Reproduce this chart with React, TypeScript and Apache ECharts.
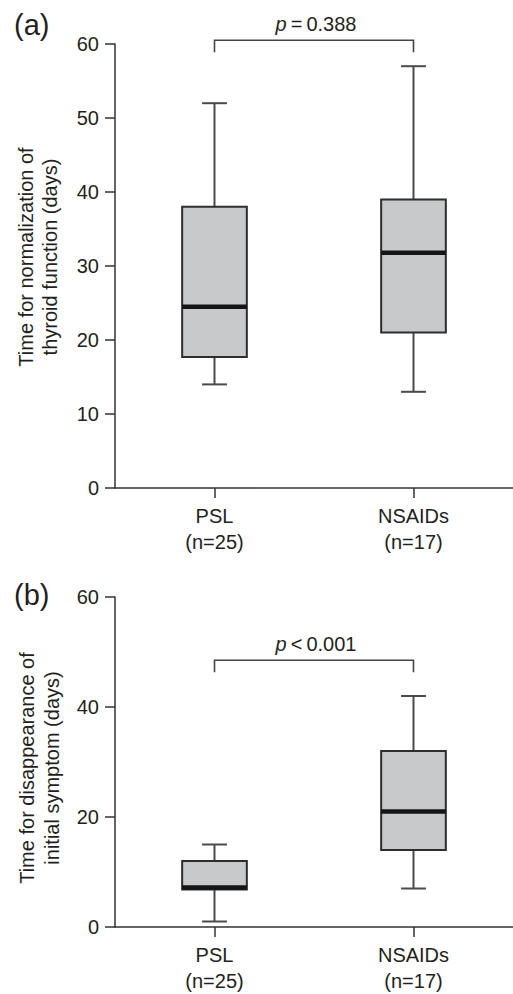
import React, { useEffect, useRef } from "react";
import * as echarts from "echarts";

const categories = ["PSL\n(n=25)", "NSAIDs\n(n=17)"];
// [low, q1, median, q3, high]
const statsA = [
  [14, 17.7, 24.5, 38, 52],
  [13, 21, 31.8, 39, 57],
];
const statsB = [
  [1, 6.8, 7.2, 12, 15],
  [7, 14, 21, 32, 42],
];
// [fromIndex, toIndex, barValue, dropValue]
const bracketA = [[0, 1, 60.5, 58.9]];
const bracketB = [[0, 1, 48.5, 46.3]];
const bracketLabelsA = ["0.388"];
const bracketLabelsB = ["0.001"];
const bracketOpsA = ["="];
const bracketOpsB = ["<"];
const yTitleA = "Time for normalization of\nthyroid function (days)";
const yTitleB = "Time for disappearance of\ninitial symptom (days)";

const FONT = "'Liberation Sans', Arial, Helvetica, sans-serif";
const TXT = "#231f20";
const AXIS = "#333333";

function boxRender(params: any, api: any) {
  const idx = api.value(0);
  const low = api.coord([idx, api.value(1)]);
  const q1 = api.coord([idx, api.value(2)]);
  const med = api.coord([idx, api.value(3)]);
  const q3 = api.coord([idx, api.value(4)]);
  const high = api.coord([idx, api.value(5)]);
  const band = api.size([1, 0])[0];
  const bw = band * 0.325;
  const cw = band * 0.125;
  const cx = med[0];
  const wStyle = { stroke: "#4a4a4a", lineWidth: 2 };
  return {
    type: "group",
    children: [
      { type: "line", shape: { x1: cx, y1: high[1], x2: cx, y2: q3[1] }, style: wStyle },
      { type: "line", shape: { x1: cx, y1: q1[1], x2: cx, y2: low[1] }, style: wStyle },
      { type: "line", shape: { x1: cx - cw / 2, y1: high[1], x2: cx + cw / 2, y2: high[1] }, style: wStyle },
      { type: "line", shape: { x1: cx - cw / 2, y1: low[1], x2: cx + cw / 2, y2: low[1] }, style: wStyle },
      {
        type: "rect",
        shape: { x: cx - bw / 2, y: q3[1], width: bw, height: q1[1] - q3[1] },
        style: { fill: "#c8c9cb", stroke: "#2e2e2e", lineWidth: 2 },
      },
      { type: "line", shape: { x1: cx - bw / 2, y1: med[1], x2: cx + bw / 2, y2: med[1] }, style: { stroke: "#151515", lineWidth: 4.5 } },
    ],
  };
}

function makeBracketRender(labels: string[], ops: string[]) {
  return function (params: any, api: any) {
    const a = api.coord([api.value(0), api.value(2)]);
    const b = api.coord([api.value(1), api.value(2)]);
    const d = api.coord([api.value(0), api.value(3)]);
    const i = params.dataIndex;
    return {
      type: "group",
      children: [
        {
          type: "polyline",
          shape: { points: [[a[0], d[1]], [a[0], a[1]], [b[0], a[1]], [b[0], d[1]]] },
          style: { stroke: "#444", lineWidth: 1.6, fill: "none" },
        },
        {
          type: "text",
          x: (a[0] + b[0]) / 2 + 2,
          y: a[1] - 16,
          style: {
            text: "{i|p}\u2009" + ops[i] + "\u2009" + labels[i],
            rich: { i: { fontStyle: "italic", fontSize: 20, fontFamily: FONT, fill: TXT } },
            fontSize: 20,
            fontFamily: FONT,
            fill: TXT,
            align: "center",
            verticalAlign: "middle",
          },
        },
      ],
    };
  };
}

function yAxisCfg(gridIndex: number, interval: number) {
  return {
    type: "value",
    gridIndex,
    min: 0,
    max: 60,
    interval,
    axisLine: { show: true, lineStyle: { color: AXIS, width: 1.5 } },
    axisTick: { show: true, length: 10, lineStyle: { color: AXIS, width: 1.5 } },
    axisLabel: { color: TXT, fontSize: 20, fontFamily: FONT, margin: 16 },
    splitLine: { show: false },
  };
}

function xAxisCfg(gridIndex: number) {
  return {
    type: "category",
    gridIndex,
    data: categories,
    boundaryGap: true,
    axisLine: { show: true, onZero: false, lineStyle: { color: AXIS, width: 1.5 } },
    axisTick: { show: true, alignWithLabel: true, length: 10, lineStyle: { color: AXIS, width: 1.5 } },
    axisLabel: { color: TXT, fontSize: 20, fontFamily: FONT, margin: 15, lineHeight: 26 },
    splitLine: { show: false },
  };
}

export default function App() {
  const ref = useRef<HTMLDivElement>(null);
  useEffect(() => {
    if (!ref.current) return;
    const chart = echarts.init(ref.current, undefined, { renderer: "svg" });
    chart.setOption({
      animation: false,
      backgroundColor: "#ffffff",
      grid: [
        { left: 115, top: 44, width: 400, height: 444 },
        { left: 115, top: 597, width: 400, height: 333 },
      ],
      xAxis: [xAxisCfg(0), xAxisCfg(1)],
      yAxis: [yAxisCfg(0, 10), yAxisCfg(1, 20)],
      series: [
        {
          type: "custom",
          xAxisIndex: 0,
          yAxisIndex: 0,
          renderItem: boxRender,
          encode: { x: 0, y: [1, 2, 3, 4, 5] },
          data: statsA.map((s, i) => [i, ...s]),
          clip: false,
        },
        {
          type: "custom",
          xAxisIndex: 1,
          yAxisIndex: 1,
          renderItem: boxRender,
          encode: { x: 0, y: [1, 2, 3, 4, 5] },
          data: statsB.map((s, i) => [i, ...s]),
          clip: false,
        },
        {
          type: "custom",
          xAxisIndex: 0,
          yAxisIndex: 0,
          renderItem: makeBracketRender(bracketLabelsA, bracketOpsA),
          encode: { x: 0, y: 2 },
          data: bracketA,
          clip: false,
        },
        {
          type: "custom",
          xAxisIndex: 1,
          yAxisIndex: 1,
          renderItem: makeBracketRender(bracketLabelsB, bracketOpsB),
          encode: { x: 0, y: 2 },
          data: bracketB,
          clip: false,
        },
      ],
      graphic: [
        {
          type: "text",
          left: 14,
          top: 10,
          style: { text: "(a)", fontSize: 29, fontFamily: FONT, fill: TXT },
        },
        {
          type: "text",
          left: 14,
          top: 580,
          style: { text: "(b)", fontSize: 29, fontFamily: FONT, fill: TXT },
        },
        {
          type: "text",
          x: 38,
          y: 257,
          rotation: Math.PI / 2,
          style: {
            text: yTitleA,
            fontSize: 20,
            fontFamily: FONT,
            fill: TXT,
            lineHeight: 24,
            align: "center",
            verticalAlign: "middle",
          },
        },
        {
          type: "text",
          x: 39.5,
          y: 768,
          rotation: Math.PI / 2,
          style: {
            text: yTitleB,
            fontSize: 20,
            fontFamily: FONT,
            fill: TXT,
            lineHeight: 25,
            align: "center",
            verticalAlign: "middle",
          },
        },
      ],
    });
    return () => chart.dispose();
  }, []);
  return (
    <div
      ref={ref}
      style={{ position: "absolute", left: 0, top: 0, width: 513, height: 994, background: "#fff" }}
    />
  );
}
